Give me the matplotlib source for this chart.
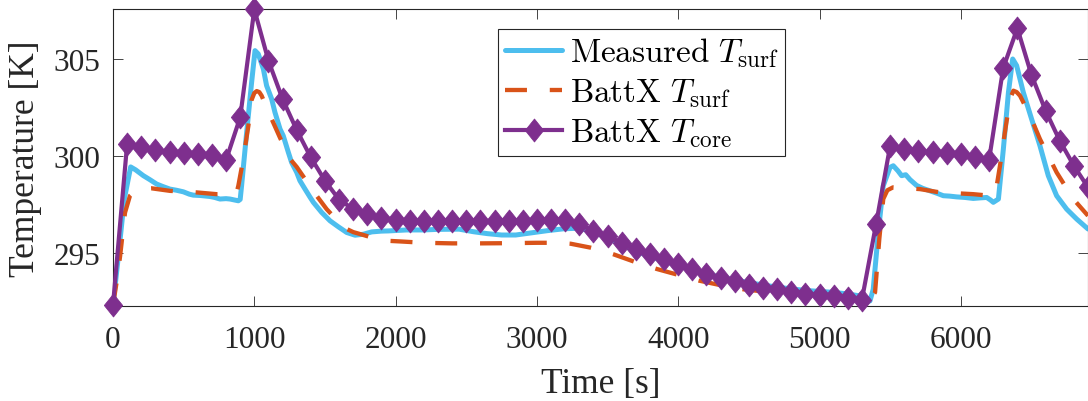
import matplotlib
matplotlib.use("Agg")
import matplotlib.pyplot as plt
from matplotlib.path import Path

plt.rcParams['font.family'] = ['Liberation Serif', 'DejaVu Serif']
plt.rcParams['mathtext.fontset'] = 'cm'

# ---------------- data ----------------
core_t = list(range(0, 7000, 100))
core_T = [292.35, 300.63, 300.46, 300.30, 300.23, 300.16, 300.11, 300.06, 299.80, 302.00,
          307.55, 304.91, 302.94, 301.35, 299.94, 298.74, 297.77, 297.28, 297.02, 296.85,
          296.73, 296.68, 296.66, 296.65, 296.65, 296.65, 296.66, 296.67, 296.68, 296.69,
          296.70, 296.72, 296.70, 296.50, 296.18, 295.88, 295.55, 295.22, 294.96, 294.70,
          294.45, 294.19, 293.93, 293.73, 293.56, 293.38, 293.25, 293.16, 293.04, 292.94,
          292.87, 292.81, 292.73, 292.62, 296.50, 300.54, 300.37, 300.25, 300.20, 300.16,
          300.11, 299.98, 299.82, 304.54, 306.58, 304.18, 302.34, 300.80, 299.51, 298.40]

meas_t = [0, 40, 80, 125, 160, 215, 260, 309, 350, 403, 450, 498, 540, 568, 620, 686, 720,
          757, 800, 828, 860, 887, 900, 910, 946, 981, 1005, 1028, 1064, 1087, 1123, 1146,
          1182, 1205, 1241, 1264, 1300, 1323, 1359, 1394, 1418, 1477, 1536, 1595, 1654,
          1713, 1772, 1831, 1900, 1949, 2078, 2196, 2300, 2450, 2550, 2650, 2750, 2850,
          2950, 3070, 3190, 3300, 3400, 3500, 3600, 3700, 3800, 3900, 4000, 4100, 4200,
          4300, 4400, 4500, 4600, 4700, 4800, 4900, 5000, 5100, 5200, 5300, 5340, 5357,
          5380, 5416, 5451, 5499, 5522, 5555, 5581, 5610, 5640, 5687, 5730, 5782, 5830,
          5876, 5920, 5970, 6030, 6088, 6140, 6183, 6210, 6230, 6266, 6301, 6337, 6367,
          6395, 6442, 6501, 6560, 6619, 6678, 6749, 6820, 6900]
meas_T = [292.35, 295.0, 297.8, 299.45, 299.3, 299.0, 298.8, 298.57, 298.45, 298.31, 298.25,
          298.17, 298.05, 298.0, 297.98, 297.93, 297.88, 297.8, 297.82, 297.8, 297.75,
          297.71, 297.78, 298.48, 301.23, 303.8, 305.43, 305.26, 304.49, 303.63, 302.94,
          302.26, 301.4, 301.05, 300.2, 299.68, 299.17, 298.74, 298.31, 297.9, 297.63,
          297.11, 296.68, 296.37, 296.08, 295.94, 295.99, 296.11, 296.15, 296.16, 296.21,
          296.21, 296.24, 296.25, 296.12, 296.02, 295.95, 295.95, 296.05, 296.17, 296.27,
          296.3, 296.1, 295.8, 295.45, 295.12, 294.85, 294.6, 294.38, 294.15, 293.95,
          293.78, 293.64, 293.5, 293.38, 293.27, 293.18, 293.1, 293.05, 293.0, 292.92,
          292.8, 292.65, 292.56, 293.16, 296.08, 298.48, 299.43, 299.51, 299.25, 299.0,
          299.05, 298.8, 298.5, 298.35, 298.22, 298.1, 297.97, 297.95, 297.91, 297.88,
          297.83, 297.86, 297.88, 297.75, 297.63, 297.8, 300.37, 303.29, 305.0, 304.66,
          303.29, 301.91, 300.54, 299.0, 297.97, 297.28, 296.77, 296.26]

battx_t = [0, 25, 50, 85, 120, 160, 200, 274, 403, 592, 733, 850, 875, 887, 922, 958, 981,
           1000, 1017, 1035, 1052, 1111, 1123, 1182, 1253, 1300, 1359, 1441, 1512, 1580,
           1654, 1700, 1772, 1850, 1950, 2031, 2200, 2400, 2600, 2800, 3000, 3150, 3240,
           3380, 3460, 3541, 3700, 3850, 4000, 4150, 4300, 4460, 4600, 4800, 5000, 5200,
           5340, 5370, 5393, 5423, 5451, 5480, 5520, 5711, 5853, 6088, 6207, 6240, 6254,
           6277, 6312, 6348, 6372, 6395, 6419, 6490, 6560, 6678, 6796, 6900]
battx_T = [292.35, 293.5, 294.85, 297.1, 297.97, 298.25, 298.33, 298.35, 298.22, 298.14,
           298.05, 298.05, 298.14, 298.48, 299.86, 301.57, 302.9, 303.25, 303.35, 303.3,
           303.11, 302.08, 301.91, 300.95, 299.86, 299.45, 298.83, 297.97, 297.28, 296.75,
           296.26, 296.1, 295.95, 295.78, 295.65, 295.62, 295.55, 295.52, 295.52, 295.53,
           295.55, 295.55, 295.5, 295.3, 295.15, 294.96, 294.55, 294.2, 293.9, 293.6,
           293.37, 293.16, 293.05, 292.95, 292.85, 292.78, 292.72, 292.75, 293.0, 295.74,
           297.8, 298.25, 298.4, 298.31, 298.14, 298.05, 297.97, 298.1, 298.48, 299.51,
           301.23, 302.94, 303.37, 303.3, 303.11, 302.08, 300.88, 299.17, 297.8, 296.94]

labels = [r'$\mathrm{Measured}\ T_{\mathrm{surf}}$',
          r'$\mathrm{BattX}\ T_{\mathrm{surf}}$',
          r'$\mathrm{BattX}\ T_{\mathrm{core}}$']
x_ticks = [0, 1000, 2000, 3000, 4000, 5000, 6000]
y_ticks = [295, 300, 305]
x_label = 'Time [s]'
y_label = 'Temperature [K]'

# ---------------- plot ----------------
W, H = 1088, 402
fig = plt.figure(figsize=(W / 100, H / 100), dpi=100)
ax = fig.add_axes([113 / W, 95 / H, 975 / W, 297 / H])

c_blue = '#4DBEEE'
c_orange = '#D95319'
c_purple = '#7E2F8E'

diamond = Path([(0, 1), (0.8, 0), (0, -1), (-0.8, 0), (0, 1)],
               [Path.MOVETO, Path.LINETO, Path.LINETO, Path.LINETO, Path.CLOSEPOLY])

ax.plot(meas_t, meas_T, color=c_blue, lw=3.6, solid_joinstyle='round',
        solid_capstyle='round', label=labels[0], zorder=2)
ax.plot(battx_t, battx_T, color=c_orange, lw=3.1, dashes=(5.1, 5.3),
        label=labels[1], zorder=3)
ax.plot(core_t, core_T, color=c_purple, lw=3.0, marker=diamond, ms=16.5,
        mec=c_purple, mfc=c_purple, mew=0.6, label=labels[2], zorder=4, clip_on=False)

ax.set_xlim(0, 6900)
ax.set_ylim(292.3, 307.57)
ax.set_xticks(x_ticks)
ax.set_yticks(y_ticks)

tc = '#262626'
for s in ax.spines.values():
    s.set_color(tc)
    s.set_linewidth(0.8)
ax.tick_params(direction='in', length=7, width=0.6, color=tc, labelcolor=tc,
               top=True, right=True, labelsize=22.5)
ax.tick_params(axis='x', pad=14)
ax.tick_params(axis='y', pad=9)

ax.set_xlabel(x_label, fontsize=25.5, color=tc)
ax.set_ylabel(y_label, fontsize=25.5, color=tc)
ax.xaxis.set_label_coords(0.5, -0.205)
ax.yaxis.set_label_coords(-0.073, 0.5)

leg = ax.legend(loc='upper left', bbox_to_anchor=((498 - 113) / 975, (307 - 30) / 297),
                borderaxespad=0, fontsize=23.8, fancybox=False, framealpha=1,
                edgecolor=tc, handlelength=1.75, handletextpad=0.22, borderpad=0.2,
                labelspacing=0.22)
leg.get_frame().set_linewidth(0.8)

fig.savefig('out.png', dpi=100)
